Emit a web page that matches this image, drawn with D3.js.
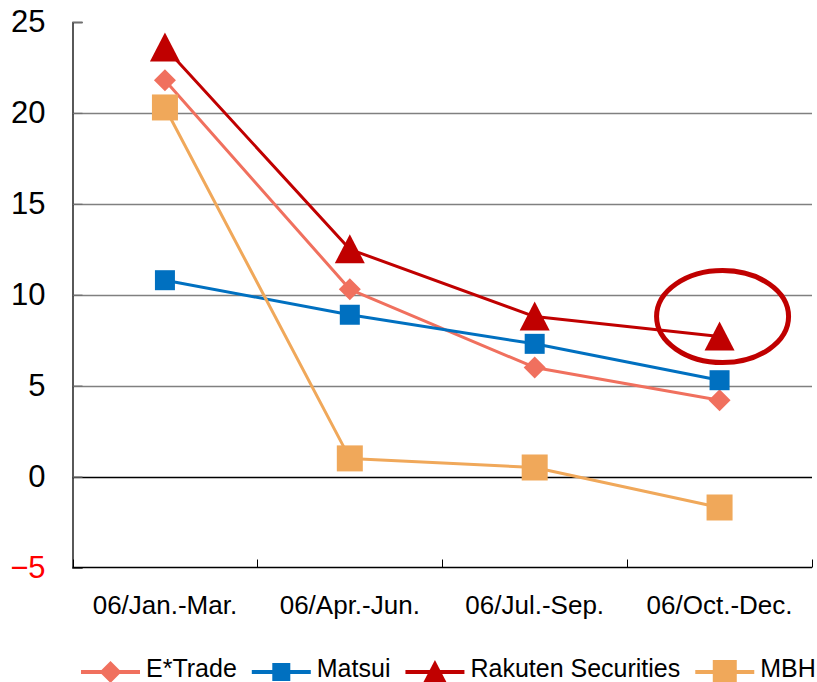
<!DOCTYPE html>
<html>
<head>
<meta charset="utf-8">
<script src="https://cdn.jsdelivr.net/npm/d3@7"></script>
<style>
  html, body { margin: 0; padding: 0; background: #fff; }
  svg { display: block; font-family: "Liberation Sans", Arial, sans-serif; }
</style>
</head>
<body>
<svg id="chart" width="817" height="682"></svg>
<script>
// Quarterly figures, 2006
const categories = ["06/Jan.-Mar.", "06/Apr.-Jun.", "06/Jul.-Sep.", "06/Oct.-Dec."];
const seriesNames = ["E*Trade", "Matsui", "Rakuten Securities", "MBH"];
const etrade  = [21.8, 10.3, 6.0, 4.2];
const matsui  = [10.8, 8.9, 7.3, 5.3];
const rakuten = [23.6, 12.5, 8.8, 7.7];
const mbh     = [20.3, 1.0, 0.5, -1.7];
const yTicks  = [-5, 0, 5, 10, 15, 20, 25];

const series = [
  { name: seriesNames[0], values: etrade,  color: "#F0705E", shape: "diamond",  size: 22 },
  { name: seriesNames[1], values: matsui,  color: "#0070C0", shape: "square",   size: 20 },
  { name: seriesNames[2], values: rakuten, color: "#C00000", shape: "triangle", size: 30 },
  { name: seriesNames[3], values: mbh,     color: "#F0A85A", shape: "square",   size: 26 }
];

const svg = d3.select("#chart");
const plotLeft = 72.5, plotRight = 812, plotTop = 22, plotBottom = 567.5;

const x = d3.scaleBand().domain(categories).range([plotLeft, plotRight]).paddingInner(0).paddingOuter(0);
const y = d3.scaleLinear().domain([-5, 25]).range([plotBottom, plotTop]);
const cx = c => x(c) + x.bandwidth() / 2;

// Horizontal gridlines (none at the top value)
svg.append("g").selectAll("line")
  .data(yTicks.filter(t => t !== 25 && t !== -5))
  .join("line")
  .attr("x1", plotLeft).attr("x2", plotRight)
  .attr("y1", d => Math.round(y(d)) + 0.5).attr("y2", d => Math.round(y(d)) + 0.5)
  .attr("stroke", d => d === 0 ? "#000" : "#808080")
  .attr("stroke-width", 1.3);

// Y axis with inward ticks
const yAxis = d3.axisLeft(y).tickValues(yTicks).tickSize(-10).tickPadding(27).tickFormat(d3.format("d"));
const yg = svg.append("g").attr("transform", `translate(${plotLeft},0)`).call(yAxis);
yg.select(".domain").attr("stroke", "#000").attr("stroke-width", 1.3);
yg.selectAll(".tick line").attr("stroke", "#707070").attr("stroke-width", 1.3);
yg.selectAll(".tick text")
  .attr("font-size", 31)
  .attr("font-family", "'Liberation Sans', Arial, sans-serif")
  .attr("fill", d => d < 0 ? "#FF0000" : "#000");

// X axis along the bottom, ticks at category boundaries pointing inward
const xg = svg.append("g").attr("transform", `translate(0,${plotBottom})`);
xg.append("line").attr("x1", plotLeft).attr("x2", plotRight).attr("y1", 0).attr("y2", 0)
  .attr("stroke", "#000").attr("stroke-width", 1.3);
xg.selectAll("line.tick")
  .data(categories.map(c => x(c) + x.bandwidth()).concat([plotLeft]))
  .join("line").attr("class", "tick")
  .attr("x1", d => Math.round(d) + 0.5).attr("x2", d => Math.round(d) + 0.5)
  .attr("y1", 0).attr("y2", -8)
  .attr("stroke", "#000").attr("stroke-width", 1);
xg.selectAll("text")
  .data(categories)
  .join("text")
  .attr("x", d => cx(d))
  .attr("y", 46)
  .attr("text-anchor", "middle")
  .attr("font-size", 26)
  .attr("fill", "#000")
  .text(d => d);

// Marker shapes
function marker(sel, s) {
  const h = s.size / 2;
  if (s.shape === "square") {
    sel.append("rect").attr("x", -h).attr("y", -h).attr("width", s.size).attr("height", s.size).attr("fill", s.color);
  } else if (s.shape === "diamond") {
    sel.append("path").attr("d", `M0,${-h}L${h},0L0,${h}L${-h},0Z`).attr("fill", s.color);
  } else {
    sel.append("path").attr("d", `M0,${-h}L${h},${h - 1}L${-h},${h - 1}Z`).attr("fill", s.color);
  }
}

// Series lines and markers
const line = d3.line().x((d, i) => cx(categories[i])).y(d => y(d));
series.forEach(s => {
  const g = svg.append("g");
  g.append("path").datum(s.values)
    .attr("d", line).attr("fill", "none")
    .attr("stroke", s.color).attr("stroke-width", 3).attr("stroke-linejoin", "round");
  s.values.forEach((v, i) => {
    const m = g.append("g").attr("transform", `translate(${cx(categories[i])},${y(v)})`);
    marker(m, s);
  });
});

// Highlight ring around the latest Rakuten Securities point
const last = categories.length - 1;
svg.append("ellipse")
  .attr("cx", cx(categories[last]) + 3)
  .attr("cy", y(rakuten[last]) - 20)
  .attr("rx", 66).attr("ry", 46)
  .attr("fill", "none").attr("stroke", "#C00000").attr("stroke-width", 5);

// Legend
const legend = svg.append("g").attr("transform", "translate(81,672)");
let lx = 0;
series.forEach(s => {
  const item = legend.append("g").attr("transform", `translate(${lx},0)`);
  item.append("line").attr("x1", 0).attr("x2", 59).attr("y1", 0).attr("y2", 0)
    .attr("stroke", s.color).attr("stroke-width", 4);
  const m = item.append("g").attr("transform", "translate(29.5,0)");
  marker(m, Object.assign({}, s, { size: s.shape === "triangle" ? 24 : (s.shape === "diamond" ? 22 : (s.name === "MBH" ? 24 : 18)) }));
  const t = item.append("text").attr("x", 65).attr("y", 5).attr("font-size", 25).attr("fill", "#000").text(s.name);
  lx += 65 + t.node().getComputedTextLength() + 15;
});
</script>
</body>
</html>
